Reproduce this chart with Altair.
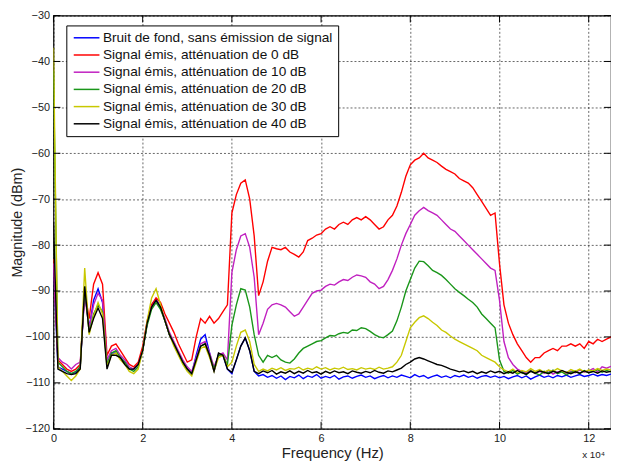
import altair as alt
import pandas as pd

# Frequency axis in units of 1e4 Hz (sampled every 0.1)
FREQ = [round(i * 0.1, 1) for i in range(126)]

SERIES = [
    "Bruit de fond, sans émission de signal",
    "Signal émis, atténuation de 0 dB",
    "Signal émis, atténuation de 10 dB",
    "Signal émis, atténuation de 20 dB",
    "Signal émis, atténuation de 30 dB",
    "Signal émis, atténuation de 40 dB",
]
COLORS = ["#0000ff", "#ff0000", "#c020c0", "#1a961a", "#c8c800", "#000000"]

X_TICKS = [0, 2, 4, 6, 8, 10, 12]
Y_TICKS = [-120, -110, -100, -90, -80, -70, -60, -50, -40, -30]

BRUIT = [
    -84, -106.5, -107, -107.5, -108, -107.8, -106.5, -90, -98, -92,
    -89.5, -92.5, -106, -103.5, -103.5, -104.5, -105.5, -107, -107, -106,
    -103, -97, -93, -91.8, -93.5, -96.5, -99.5, -101.5, -103.5, -105.5,
    -107, -108, -104, -100.5, -99.5, -103.5, -107.5, -103.8, -104, -107,
    -108, -105, -102, -100.2, -103, -107.5, -108.5, -108.2, -108.8, -108.4,
    -109, -108.5, -109.3, -108.6, -108.9, -108.3, -109.1, -108.5, -108.8, -108.2,
    -109, -108.6, -108.9, -108.4, -109.2, -108.7, -108.5, -109, -108.6, -108.3,
    -108.8, -108.5, -109.1, -108.7, -108.4, -108.9, -108.5, -108.8, -108.3, -108.6,
    -108.9, -108.2, -108.7, -108.4, -109, -108.6, -108.3, -108.8, -108.5, -108.9,
    -108.4, -108.7, -108.3, -108.8, -108.5, -109, -108.6, -108.4, -108.8, -108.5,
    -108.9, -108.6, -109.1, -108.7, -108.4, -108.9, -108.5, -109.2, -108.7, -108.3,
    -108.8, -108.5, -108.9, -108.4, -108.7, -108.3, -108.8, -108.5, -108.2, -108.6,
    -108.4, -108.1, -108.5, -108.2, -108.4, -108.1,
]

ATT0 = [
    -83, -105, -106, -107, -107.5, -107, -106, -90, -96, -88.5,
    -86, -88.5, -104, -102, -101.5, -103, -104.5, -106, -106.5, -105.5,
    -102, -96.5, -93, -91.5, -92.5, -95, -97, -99, -101.5, -103.5,
    -105.5, -105, -100, -96, -97, -95.5, -97, -96, -94.5, -93,
    -73, -69, -66.5, -65.8, -70, -78, -91, -88, -83.5, -80.5,
    -80.8, -81, -80.5, -81.5, -82, -82.6, -81.5, -79, -78.5, -77.8,
    -77.5, -76.5, -76, -76.5, -75.5, -75, -75.5, -74.5, -74, -74.5,
    -73.8, -74.5, -75.5, -76.5, -76, -74.5, -73.5, -71.5, -68.5, -65,
    -62.5, -61.5, -61, -60, -61, -61.5, -62, -62.8, -63.5, -64,
    -64.5, -65.5, -66, -66.5, -67.5, -69, -70.5, -72, -73.5, -73,
    -84, -93, -97, -99.5, -101.5, -103, -104.5, -105.5, -104.5, -104.5,
    -103.5, -103, -102.5, -103, -102, -102, -101.5, -102, -101.5, -102.5,
    -101, -101.5, -100.5, -101, -100.5, -100,
]

ATT10 = [
    -84, -104.5, -105.5, -106, -107, -106, -105.5, -91, -98, -93,
    -90.5, -92, -105, -103, -102.5, -104, -105, -106.5, -107, -106,
    -103, -97, -93.5, -92, -93.5, -96, -99, -101, -103, -105,
    -106.5, -107.5, -104.5, -101.5, -101, -103.5, -106.5, -104, -103.5, -105,
    -86, -81, -78, -77.5, -80.5, -87, -99.5, -97, -94, -93,
    -92.7, -93, -93.5, -94.5, -95.5, -95, -93.5, -92, -90.5, -90,
    -89.8, -89, -88.5, -88.7, -88, -87.5, -87.7, -87, -86.5, -86.7,
    -87, -88, -88.5, -89.5, -89, -87.5, -85.5, -83, -80, -77.5,
    -75.5, -73.5, -72.5, -71.8, -72.5, -73, -73.5, -74.5, -75.5, -76.5,
    -77, -78, -79, -80, -81, -82, -83, -84, -85, -85.5,
    -92, -101, -104.5, -106, -107, -107.5, -107.8, -107.2, -108, -107.5,
    -107.9, -107.3, -108.1, -107.6, -107.4, -108, -107.5, -107.8, -107.2, -107.7,
    -107.4, -106.9, -107.6, -106.5, -106.8, -106.4,
]

ATT20 = [
    -42, -105.5, -106.5, -107.5, -108, -107.5, -106.5, -89, -99, -95,
    -93, -94.5, -106, -103.5, -103, -104.5, -105.5, -107, -107.5, -106.5,
    -103, -97.5, -94, -92.5, -94, -96.5, -99.5, -101.5, -103.5, -105.5,
    -107, -108, -105, -102, -101.5, -104, -107, -104, -104, -106,
    -97.5, -93, -89.5, -89.8, -93.5, -99.5, -104, -105.5, -104, -104.5,
    -104, -105, -105.5, -105.7, -104.8, -103.5, -102.5, -102, -101.5, -101,
    -100.8, -100.2, -99.7, -99.8, -99.3, -99, -99.2, -98.5, -98.6, -98,
    -98.2, -98.8, -99.5, -100, -100.2, -99.5, -98.7, -96.5, -93.5, -90,
    -87.5, -85, -83.5, -83.6, -84.5, -85.5, -86, -86.6, -87.5, -88.5,
    -89.5, -90.3, -91, -91.8, -92.5, -93.5, -95, -96, -97, -98,
    -105, -107.5, -107.9, -107.3, -108.1, -107.6, -108.2, -107.4, -107.9, -108.3,
    -107.5, -107.8, -107.2, -108, -107.6, -108.3, -107.7, -107.4, -108, -107.3,
    -107.8, -107.5, -107.1, -107.7, -107.3, -107.6,
]

ATT30 = [
    -37, -106.5, -107.5, -108.5, -109.5, -108.5, -107, -85, -99.5, -95.5,
    -92.5, -95, -106.5, -104, -103.5, -105, -106, -107.5, -108, -107,
    -103, -96.5, -91.5, -89.5, -93, -96.5, -99.5, -102, -104, -106,
    -107.5, -108.5, -105.5, -102.5, -102, -104.5, -107.5, -104.5, -104, -106.5,
    -105.5, -102, -99, -98.5, -101, -106, -107.5, -107, -107.4, -106.8,
    -107.2, -106.7, -107.3, -106.9, -107, -106.6, -107.2, -106.8, -107.1, -106.5,
    -107, -106.7, -107.2, -106.8, -107, -106.6, -107.1, -106.9, -107.2, -106.7,
    -107, -106.8, -107.1, -106.6, -107, -106.8, -106.5, -105.5, -104, -101,
    -98, -96.8, -95.8, -95.4, -96, -96.8, -97.5, -98.5, -99, -99.8,
    -100.5, -101, -101.5, -102, -102.5, -103, -104, -104.5, -105, -105.5,
    -106.5, -107.2, -107.6, -107, -107.8, -107.3, -107.6, -106.9, -107.5, -107.1,
    -107.7, -107.2, -107.5, -106.9, -107.4, -107.8, -107.1, -107.5, -107, -107.6,
    -107.2, -107.4, -106.9, -107.3, -107, -107.2,
]

ATT40 = [
    -75, -107, -107.5, -108, -108.2, -108, -107, -89, -99, -96,
    -93.7, -96, -107, -104, -104, -104.5, -106, -107, -107, -106,
    -103, -97, -93.5, -92, -93.5, -96.5, -99.5, -101.5, -103.5, -105.5,
    -107, -108, -105, -102, -101.5, -104, -107.5, -103.5, -104, -107,
    -107.7, -105, -102, -100.2, -103, -107.5, -108, -107.4, -107.8, -107.3,
    -108.1, -107.6, -107.9, -107.4, -108, -107.5, -107.9, -107.3, -107.8, -107.6,
    -108.1, -107.5, -107.9, -107.4, -107.8, -107.6, -108, -107.4, -107.7, -107.9,
    -107.5, -107.8, -107.3, -107.7, -107.9, -107.4, -107.6, -107.2, -106.8, -106,
    -105.5, -104.8, -104.5, -104.8, -105.2, -105.6, -106, -106.2, -106.6, -107,
    -107.3, -107.6, -107.4, -107.8, -107.5, -108, -107.6, -107.9, -107.4, -107.8,
    -107.5, -108, -107.6, -107.9, -107.3, -107.8, -108.1, -107.5, -107.9, -107.4,
    -107.7, -108, -107.5, -107.8, -107.3, -107.7, -108, -107.6, -107.9, -107.4,
    -107.8, -107.5, -107.9, -107.4, -107.7, -107.5,
]

VALUES = [BRUIT, ATT0, ATT10, ATT20, ATT30, ATT40]

rows = []
for name, vals in zip(SERIES, VALUES):
    for f, v in zip(FREQ, vals):
        rows.append({"freq": f, "mag": v, "serie": name})
df = pd.DataFrame(rows)

W, H = 564, 418
FONT = "Liberation Sans"

x_enc = alt.X(
    "freq:Q",
    scale=alt.Scale(domain=[0, 12.5], nice=False, zero=False),
    axis=alt.Axis(
        values=X_TICKS, title="Frequency (Hz)", grid=True, gridDash=[2, 2],
        gridColor="#000000", gridOpacity=0.6, ticks=False, domain=False,
        labelPadding=4, labelFontSize=11, labelFont=FONT, labelColor="#222222",
        titleFont=FONT, titleFontSize=15, titleFontWeight="normal",
        titleColor="#222222", titlePadding=2, labelFlush=False,
    ),
)
y_enc = alt.Y(
    "mag:Q",
    scale=alt.Scale(domain=[-120, -30], nice=False, zero=False),
    axis=alt.Axis(
        values=Y_TICKS, title="Magnitude (dBm)", grid=True, gridDash=[2, 2],
        gridColor="#000000", gridOpacity=0.6, ticks=False, domain=False,
        labelPadding=4, labelFontSize=11, labelFont=FONT, labelColor="#222222",
        titleFont=FONT, titleFontSize=14.5, titleFontWeight="normal",
        titleColor="#222222", titlePadding=1, labelFlush=False,
    ),
)
color_enc = alt.Color(
    "serie:N",
    scale=alt.Scale(domain=SERIES, range=COLORS),
    legend=alt.Legend(
        title=None, orient="none", legendX=13, legendY=10, direction="vertical",
        symbolType="M-2,0H2", symbolSize=169, symbolStrokeWidth=1.5,
        symbolOffset=8,
        labelFont=FONT, labelFontSize=13.8, labelColor="#111111", labelLimit=400,
        labelOffset=9, rowPadding=2.4, padding=5, strokeColor="#000000",
        fillColor="#ffffff",
    ),
)

layers = []
for name in SERIES:
    layers.append(
        alt.Chart(df)
        .transform_filter(alt.datum.serie == name)
        .mark_line(strokeWidth=1.4, clip=True)
        .encode(x=x_enc, y=y_enc, color=color_enc)
    )

ytick_df = pd.DataFrame({"mag": Y_TICKS})
xtick_df = pd.DataFrame({"freq": X_TICKS})
tick_style = dict(color="#000000", strokeWidth=1)
left_ticks = alt.Chart(ytick_df).mark_rule(**tick_style).encode(
    y=y_enc, x=alt.value(0), x2=alt.value(7))
right_ticks = alt.Chart(ytick_df).mark_rule(**tick_style).encode(
    y=y_enc, x=alt.value(W - 7), x2=alt.value(W))
bottom_ticks = alt.Chart(xtick_df).mark_rule(**tick_style).encode(
    x=x_enc, y=alt.value(H - 7), y2=alt.value(H))
top_ticks = alt.Chart(xtick_df).mark_rule(**tick_style).encode(
    x=x_enc, y=alt.value(0), y2=alt.value(7))

exp_label = alt.Chart(pd.DataFrame({"lbl": ["x 10\u2074"]})).mark_text(
    align="right", baseline="alphabetic", dx=-6, dy=30, fontSize=10, font=FONT,
    color="#222222",
).encode(x=alt.datum(12.5), y=alt.datum(-120), text="lbl:N")

chart = (
    alt.layer(*layers, left_ticks, right_ticks, bottom_ticks, top_ticks, exp_label)
    .properties(
        width=W, height=H,
        autosize=alt.AutoSizeParams(type="none"),
        padding={"left": 46, "top": 5, "right": 0, "bottom": 32},
        background="#ffffff",
    )
    .configure_view(stroke="#000000", strokeWidth=1.2)
)

chart.save("out.html", embed_options={"renderer": "svg", "actions": False})
